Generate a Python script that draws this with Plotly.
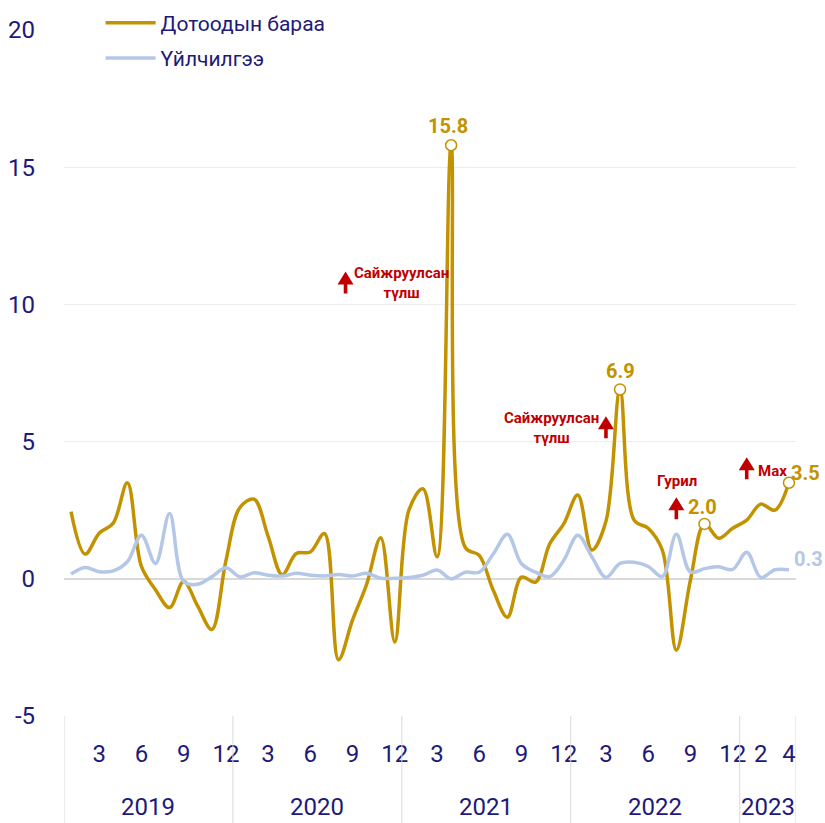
import plotly.graph_objects as go

# --- data -----------------------------------------------------------------
years = ["2019", "2020", "2021", "2022", "2023"]
months_per_year = [12, 12, 12, 12, 4]
tick_months = {"2019": [3, 6, 9, 12], "2020": [3, 6, 9, 12],
               "2021": [3, 6, 9, 12], "2022": [3, 6, 9, 12],
               "2023": [2, 4]}
y_ticks = [-5, 0, 5, 10, 15, 20]

goods = [2.45, 0.9, 1.66, 2.03, 3.5, 0.45, -0.4, -1.05, -0.1, -1.0, -1.85, 0.65,
         2.6, 2.9, 1.55, 0.15, 0.92, 0.98, 1.65, -2.95, -1.5, -0.2, 1.5, -2.3,
         2.5, 3.28, 0.8, 15.8, 1.15, 0.85, -0.43, -1.4, 0.06, -0.12, 1.27, 2.0,
         3.05, 1.05, 2.1, 6.9, 2.14, 1.84, 1.05, -2.6, -0.05, 2.0, 1.48, 1.84,
         2.14, 2.72, 2.5, 3.5]
services = [0.17, 0.41, 0.26, 0.29, 0.62, 1.59, 0.56, 2.38, -0.1, -0.2, 0.07, 0.4,
            0.07, 0.22, 0.13, 0.1, 0.2, 0.13, 0.1, 0.16, 0.1, 0.2, 0.02, 0.02,
            0.05, 0.13, 0.32, 0.0, 0.24, 0.24, 0.91, 1.62, 0.55, 0.24, 0.08, 0.67,
            1.59, 0.8, 0.05, 0.56, 0.6, 0.45, 0.08, 1.62, 0.25, 0.37, 0.44, 0.34,
            0.97, 0.05, 0.33, 0.33]

highlight_idx = [27, 39, 45, 51]

# (x, y) of the red up-arrow tips and their notes, in axis units
arrow_notes = [
    (19.5, 11.2, "Сайжруулсан<br>түлш", 23.5, 10.78),
    (38.0, 5.92, "Сайжруулсан<br>түлш", 34.1, 5.49),
    (43.0, 2.97, "Гурил", 43.05, 3.56),
    (48.0, 4.43, "Max", 49.8, 3.93),
]

GOLD = "#c39200"
BLUE = "#b4c7e7"
RED = "#c00000"
NAVY = "#21197a"
FONT = "Roboto, sans-serif"

# arrow glyph in pixels relative to its tip (positive = up)
ARROW_PATH = ("M -8,-13 L 0,0 L 8,-13 Z "
              "M -1.8,-13 L 1.8,-13 L 1.8,-22 L -1.8,-22 Z")

# --- build x positions ----------------------------------------------------
x = list(range(len(goods)))
month_no = []
year_of = []
for yr, n in zip(years, months_per_year):
    for m in range(1, n + 1):
        month_no.append(m)
        year_of.append(yr)

tickvals, ticktext = [], []
for i, (yr, m) in enumerate(zip(year_of, month_no)):
    if m in tick_months[yr]:
        tickvals.append(i)
        ticktext.append(str(m))

fig = go.Figure()
fig.add_trace(go.Scatter(
    x=x, y=goods, name="Дотоодын бараа", mode="lines",
    line=dict(color=GOLD, width=3.5, shape="spline", smoothing=1.0),
    legendgroup="a"))
fig.add_trace(go.Scatter(
    x=x, y=services, name="Үйлчилгээ", mode="lines",
    line=dict(color=BLUE, width=3.5, shape="spline", smoothing=1.0),
    legendgroup="b"))
fig.add_trace(go.Scatter(
    x=highlight_idx, y=[goods[i] for i in highlight_idx], mode="markers",
    marker=dict(size=11, color="white", line=dict(color=GOLD, width=1.5)),
    showlegend=False, hoverinfo="skip"))

annotations = []
shapes = []
# value labels
label_shift = {27: (-3, 19), 39: (0, 18), 45: (-2, 17), 51: (17, 10)}
for i in highlight_idx:
    dx, dy = label_shift[i]
    annotations.append(dict(
        x=i, y=goods[i], text=f"<b>{goods[i]:.1f}</b>", showarrow=False,
        xshift=dx, yshift=dy, font=dict(family=FONT, size=20, color=GOLD)))
annotations.append(dict(
    x=x[-1], y=services[-1], text=f"<b>{services[-1]:.1f}</b>",
    showarrow=False, xshift=20, yshift=11,
    font=dict(family=FONT, size=20, color=BLUE)))

for ax_, ay_, note, tx, ty in arrow_notes:
    shapes.append(dict(
        type="path", xref="x", yref="y", xsizemode="pixel",
        ysizemode="pixel", xanchor=ax_, yanchor=ay_, path=ARROW_PATH,
        fillcolor=RED, line=dict(width=0)))
    annotations.append(dict(
        x=tx, y=ty, text=f"<b>{note}</b>", showarrow=False,
        font=dict(family=FONT, size=15, color=RED)))

# year labels and dividers
start = 0
bounds = [-0.5]
for yr, n in zip(years, months_per_year):
    annotations.append(dict(
        x=start + (n - 1) / 2, y=-0.133, xref="x", yref="paper",
        text=yr, showarrow=False, yanchor="middle",
        font=dict(family=FONT, size=24, color=NAVY)))
    start += n
    bounds.append(start - 0.5)
for b in bounds:
    shapes.append(dict(type="line", xref="x", yref="paper", x0=b, x1=b,
                       y0=0, y1=-0.16, line=dict(color="#d9d9d9", width=1)))

fig.update_layout(
    width=825, height=823,
    margin=dict(l=64, r=29, t=30, b=107, autoexpand=False),
    plot_bgcolor="white", paper_bgcolor="white",
    font=dict(family=FONT, color=NAVY),
    showlegend=True,
    legend=dict(x=0.05, y=1.040, xanchor="left", yanchor="top",
                font=dict(family=FONT, size=21, color=NAVY),
                bgcolor="rgba(0,0,0,0)", tracegroupgap=5,
                traceorder="grouped", itemwidth=50),
    annotations=annotations, shapes=shapes,
)
fig.update_xaxes(range=[-0.5, 51.5], showgrid=False, zeroline=False,
                 showline=False, tickvals=tickvals, ticktext=ticktext,
                 ticks="", tickfont=dict(family=FONT, size=24, color=NAVY),
                 ticklabelstandoff=21, automargin=False)
fig.update_yaxes(range=[-5, 20], tickvals=y_ticks,
                 ticktext=[str(v) for v in y_ticks],
                 showgrid=True, gridcolor="#ededed",
                 gridwidth=1, zeroline=True, zerolinecolor="#d9d9d9",
                 zerolinewidth=2, showline=False, ticks="",
                 tickfont=dict(family=FONT, size=24, color=NAVY),
                 ticklabelstandoff=28, automargin=False)

# drop the default page margin so the figure fills the window exactly
fig.write_html(
    "out.html",
    config={"displayModeBar": False},
    post_script="document.body.style.margin='0';"
                "document.documentElement.style.overflow='hidden';")
